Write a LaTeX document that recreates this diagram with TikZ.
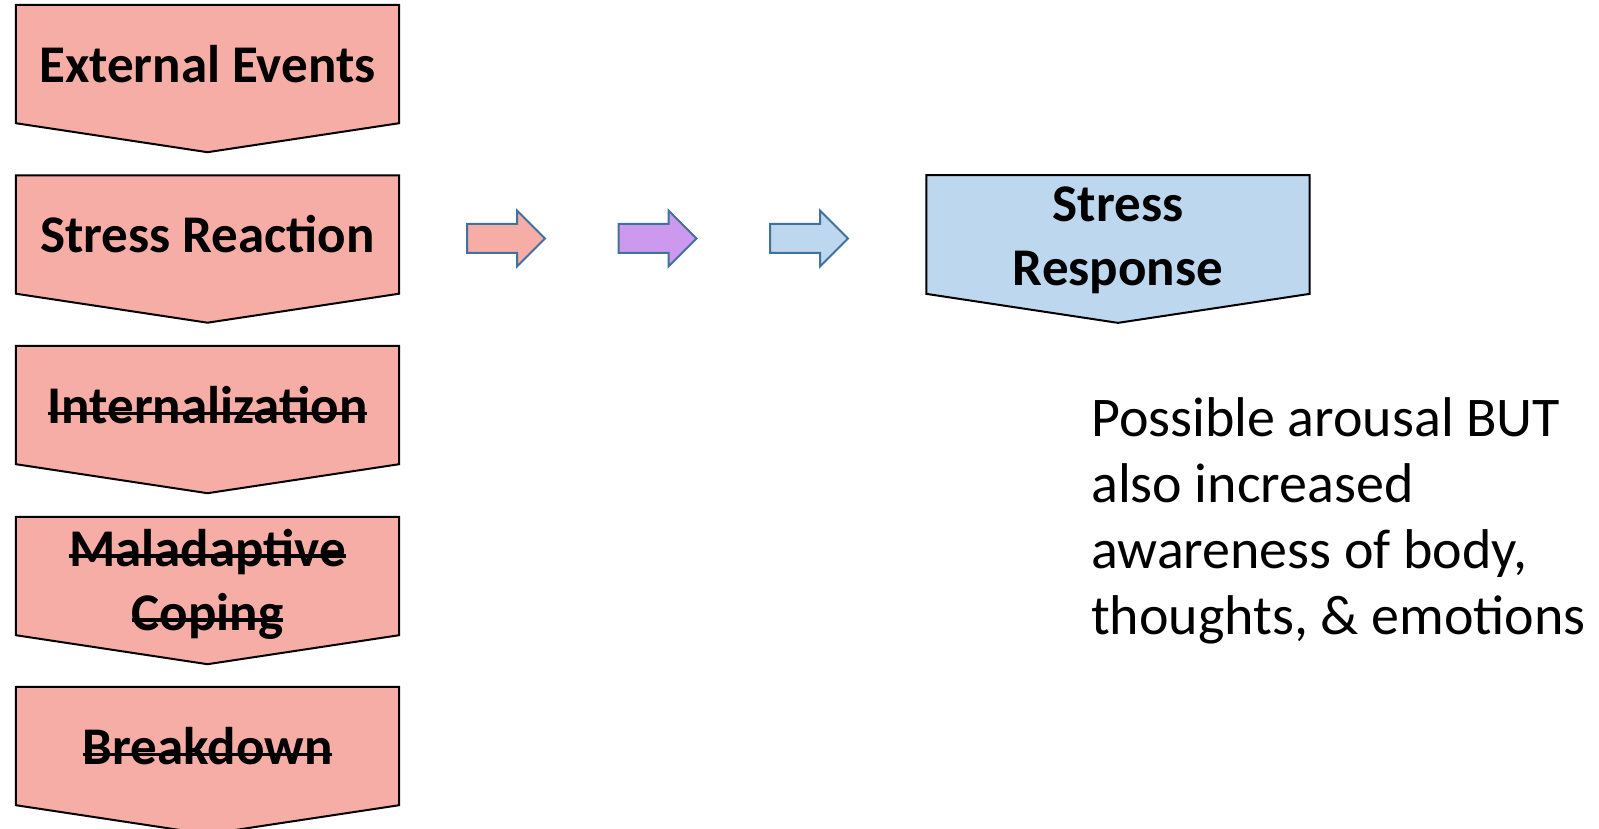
\documentclass[tikz,border=0pt]{standalone}
\usepackage{fontspec}
\setmainfont{Carlito}
\usetikzlibrary{shapes.arrows,backgrounds,calc}
\definecolor{StageRed}{RGB}{246,173,166}
\definecolor{StageBlue}{RGB}{189,215,238}
\definecolor{StagePurple}{RGB}{204,153,238}
\definecolor{ArrowEdge}{RGB}{65,113,156}
\newlength\strikelen
\newcommand{\strikeout}[1]{\settowidth{\strikelen}{#1}\rlap{#1}\rule[0.155em]{\strikelen}{0.065em}}
\begin{document}
\begin{tikzpicture}[x=1pt,y=-1pt,
  stage/.style={minimum width=383pt,minimum height=118pt,inner sep=0pt,align=center,
                font=\fontsize{53}{64}\selectfont\bfseries},
  chev/.style={draw=black,line width=2pt,line join=miter},
  flow/.style={single arrow,draw=ArrowEdge,line width=2pt,minimum height=78pt,anchor=tail,
               inner xsep=0pt,inner ysep=13.5pt,single arrow head extend=13.5pt},
]
\useasboundingbox (0,0) rectangle (1599,829);
\node[stage] (ext) at (207.5,64) {External Events};
\node[stage] (react) at (207.5,234.5) {Stress Reaction};
\node[stage] (intern) at (207.5,405) {\strikeout{Internalization}};
\node[stage,text height=108pt,text depth=0pt] (malad) at (207.5,576) {\strikeout{Maladaptive}\\\strikeout{Coping}};
\node[stage] (brk) at (207.5,746) {\strikeout{Breakdown}};
\node[stage,text height=110pt] (resp) at (1118,234.5) {Stress\\Response};
\begin{scope}[on background layer]
\foreach \n/\c in {ext/StageRed,react/StageRed,intern/StageRed,malad/StageRed,brk/StageRed,resp/StageBlue}
  \draw[chev,fill=\c] (\n.north west) -- (\n.north east) -- (\n.south east)
    -- ($(\n.south)+(0,29)$) -- (\n.south west) -- cycle;
\end{scope}
\node[flow,fill=StageRed] (a1) at (466,238.5) {};
\node[flow,fill=StagePurple] (a2) at (617.5,238.5) {};
\node[flow,fill=StageBlue] (a3) at (769,238.5) {};
\node[anchor=north west,inner sep=0pt,align=left,font=\fontsize{56}{66}\selectfont] (note)
  at (1091,397) {Possible arousal BUT\\also increased\\awareness of body,\\thoughts, \& emotions};
\end{tikzpicture}
\end{document}
